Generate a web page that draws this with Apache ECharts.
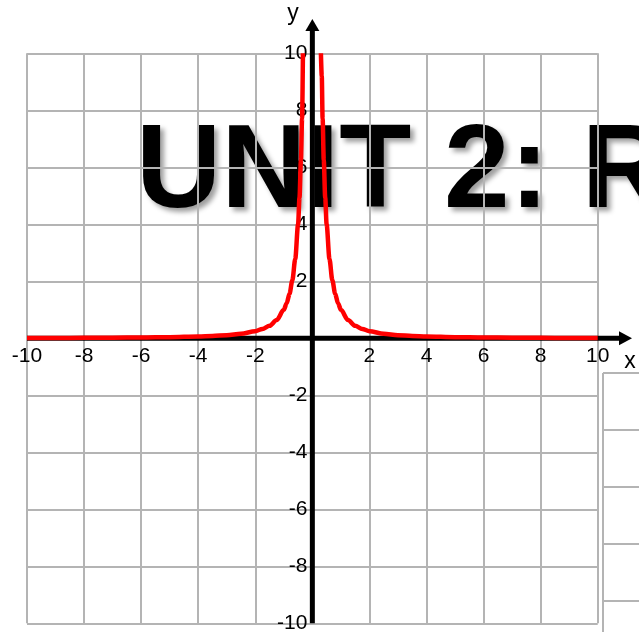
<!DOCTYPE html>
<html>
<head>
<meta charset="utf-8">
<style>
  html, body { margin: 0; padding: 0; background: #fff; }
  #chart { width: 639px; height: 632px; }
</style>
<script src="https://cdn.jsdelivr.net/npm/echarts@6/dist/echarts.min.js"></script>
</head>
<body>
<div id="chart"></div>
<script>
// y = 1/x^2, drawn as two branches on either side of the y axis
const leftX  = [-10, -9, -8, -7, -6, -5, -4, -3.5, -3, -2.5, -2, -1.75, -1.5, -1.25, -1, -0.9, -0.8, -0.7, -0.6, -0.5, -0.45, -0.4, -0.36, -0.33];
const leftY  = [0.01, 0.012, 0.016, 0.02, 0.028, 0.04, 0.063, 0.082, 0.11, 0.16, 0.25, 0.33, 0.44, 0.64, 1, 1.23, 1.56, 2.04, 2.78, 4, 4.94, 6.25, 7.7, 10];
const rightX = [0.3, 0.33, 0.36, 0.4, 0.45, 0.5, 0.6, 0.7, 0.8, 0.9, 1, 1.25, 1.5, 1.75, 2, 2.5, 3, 3.5, 4, 5, 6, 7, 8, 9, 10];
const rightY = [10, 9.2, 7.7, 6.25, 4.94, 4, 2.78, 2.04, 1.56, 1.23, 1, 0.64, 0.44, 0.33, 0.25, 0.16, 0.11, 0.082, 0.063, 0.04, 0.028, 0.02, 0.016, 0.012, 0.01];

// tick labels written along the axes through the origin (no label at 0)
const xTicks = [-10, -8, -6, -4, -2, 2, 4, 6, 8, 10];
const yTicks = [-10, -8, -6, -4, -2, 2, 4, 6, 8, 10];

const FONT = "'Liberation Sans', Arial, sans-serif";
const GRID_GRAY = '#b4b4b4';

const chart = echarts.init(document.getElementById('chart'), null, { renderer: 'canvas' });

const pairs = (xs, ys) => xs.map((x, i) => [x, ys[i]]);

const option = {
  animation: false,
  backgroundColor: '#ffffff',
  title: {
    text: 'UNIT 2: R', left: 136, top: 115, padding: 0, z: 0,
    textStyle: {
      color: '#000', fontFamily: FONT, fontWeight: 'bold', fontSize: 118,
      textShadowColor: 'rgba(0,0,0,0.38)', textShadowBlur: 5,
      textShadowOffsetX: 4, textShadowOffsetY: 4
    }
  },
  grid: {
    left: 27, top: 53.3, right: 41.3, bottom: 8.7,
    containLabel: false, outerBoundsMode: 'none'
  },
  xAxis: {
    type: 'value', min: -10, max: 10, interval: 2, z: 3,
    axisLine: { show: false },
    axisTick: { show: false },
    axisLabel: { show: false },
    splitLine: { show: true, lineStyle: { color: GRID_GRAY, width: 2 } }
  },
  yAxis: {
    type: 'value', min: -10, max: 10, interval: 2, z: 3,
    axisLine: { show: false },
    axisTick: { show: false },
    axisLabel: { show: false },
    splitLine: { show: true, lineStyle: { color: GRID_GRAY, width: 2 } }
  },
  series: [
    {
      type: 'line', data: pairs(leftX, leftY), showSymbol: false, z: 10,
      smooth: 0.3, smoothMonotone: 'x',
      lineStyle: { color: '#ff0000', width: 4.5 }
    },
    {
      type: 'line', data: pairs(rightX, rightY), showSymbol: false, z: 10,
      smooth: 0.3, smoothMonotone: 'x',
      lineStyle: { color: '#ff0000', width: 4.5 }
    }
  ]
};
chart.setOption(option);

// Axes with arrowheads, placed from the coordinate system (below the curve)
const origin = chart.convertToPixel({ gridIndex: 0 }, [0, 0]);
const bottomLeft = chart.convertToPixel({ gridIndex: 0 }, [-10, -10]);
const xAxisEnd = 632;   // arrow tip past the right edge of the grid
const yAxisTop = 19;    // arrow tip above the top of the grid
const AXIS_W = 5;
const AXIS_Z = 5;

const graphics = [
  // x axis
  {
    type: 'line', z: AXIS_Z,
    shape: { x1: bottomLeft[0], y1: origin[1], x2: xAxisEnd - 10, y2: origin[1] },
    style: { stroke: '#000', lineWidth: AXIS_W }
  },
  {
    type: 'polygon', z: AXIS_Z,
    shape: { points: [[xAxisEnd, origin[1]], [xAxisEnd - 13, origin[1] - 7], [xAxisEnd - 13, origin[1] + 7]] },
    style: { fill: '#000' }
  },
  // y axis
  {
    type: 'line', z: AXIS_Z,
    shape: { x1: origin[0], y1: bottomLeft[1], x2: origin[0], y2: yAxisTop + 10 },
    style: { stroke: '#000', lineWidth: AXIS_W }
  },
  {
    type: 'polygon', z: AXIS_Z,
    shape: { points: [[origin[0], yAxisTop], [origin[0] - 7, yAxisTop + 12], [origin[0] + 7, yAxisTop + 12]] },
    style: { fill: '#000' }
  },
  // axis names
  {
    type: 'text', z: 20, x: 293, y: 14,
    style: { text: 'y', fill: '#000', font: '23px ' + FONT, align: 'center', verticalAlign: 'middle' }
  },
  {
    type: 'text', z: 20, x: 630, y: 362,
    style: { text: 'x', fill: '#000', font: '23px ' + FONT, align: 'center', verticalAlign: 'middle' }
  }
];

// tick labels on the axes
xTicks.forEach(v => {
  const p = chart.convertToPixel({ gridIndex: 0 }, [v, 0]);
  graphics.push({
    type: 'text', z: 8, x: p[0], y: p[1] + 18,
    style: { text: String(v), fill: '#000', font: '21px ' + FONT, align: 'center', verticalAlign: 'middle' }
  });
});
yTicks.forEach(v => {
  const p = chart.convertToPixel({ gridIndex: 0 }, [0, v]);
  graphics.push({
    type: 'text', z: 8, x: p[0] - 5, y: p[1],
    style: { text: String(v), fill: '#000', font: '21px ' + FONT, align: 'right', verticalAlign: 'middle' }
  });
});

// edge of a neighbouring grid in the lower right corner
const sideLeft = 603, sideTop = 373, sideStep = 57;
graphics.push({
  type: 'line', z: 1,
  shape: { x1: sideLeft, y1: sideTop, x2: sideLeft, y2: 632 },
  style: { stroke: GRID_GRAY, lineWidth: 2 }
});
for (let y = sideTop; y < 632; y += sideStep) {
  graphics.push({
    type: 'line', z: 1,
    shape: { x1: sideLeft, y1: y, x2: 639, y2: y },
    style: { stroke: GRID_GRAY, lineWidth: 2 }
  });
}

chart.setOption({ graphic: graphics });
</script>
</body>
</html>
